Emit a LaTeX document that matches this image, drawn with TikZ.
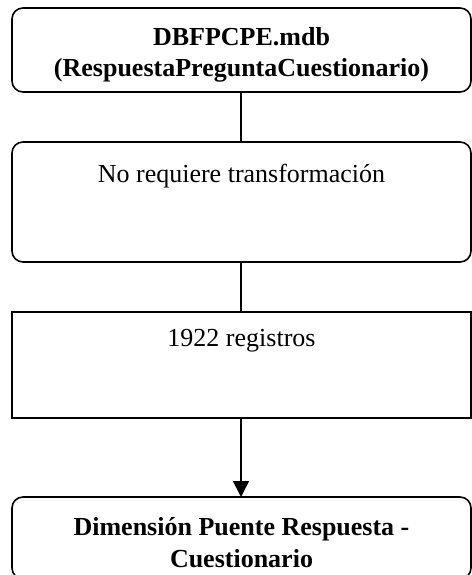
\documentclass[tikz,border=0pt]{standalone}
\usepackage{fontspec}
\setmainfont{Liberation Serif}
\usetikzlibrary{arrows.meta}
\begin{document}
\begin{tikzpicture}[x=1bp,y=-1bp,
  box/.style={draw=black, line width=1.6bp, minimum width=459bp, inner sep=0pt, outer sep=0pt},
  rbox/.style={box, rounded corners=11bp},
  txt/.style={font=\fontsize{26bp}{31.5bp}\selectfont, align=center, inner sep=0pt, anchor=base},
  conn/.style={draw=black, line width=1.6bp}
]
\useasboundingbox (0,0) rectangle (472,575);
\node[rbox, minimum height=84bp] (b1) at (241.5,50) {};
\node[rbox, minimum height=120bp] (b2) at (241.5,202) {};
\node[box, minimum height=106bp] (b3) at (241.5,365) {};
\node[rbox, minimum height=82bp] (b4) at (241.5,538) {};
\node[txt] (t1) at (241.5,77) {\textbf{DBFPCPE.mdb}\\\textbf{(RespuestaPreguntaCuestionario)}};
\node[txt] (t2) at (241.5,182) {No requiere transformación};
\node[txt] (t3) at (241.5,346) {1922 registros};
\node[txt] (t4) at (241.5,567) {\textbf{Dimensión Puente Respuesta -}\\\textbf{Cuestionario}};
\draw[conn] (b1.south -| 241,0) -- (b2.north -| 241,0);
\draw[conn] (b2.south -| 241,0) -- (b3.north -| 241,0);
\draw[conn, -{Triangle[width=16bp,length=16bp]}] (b3.south -| 241,0) -- (b4.north -| 241,0);
\end{tikzpicture}
\end{document}
